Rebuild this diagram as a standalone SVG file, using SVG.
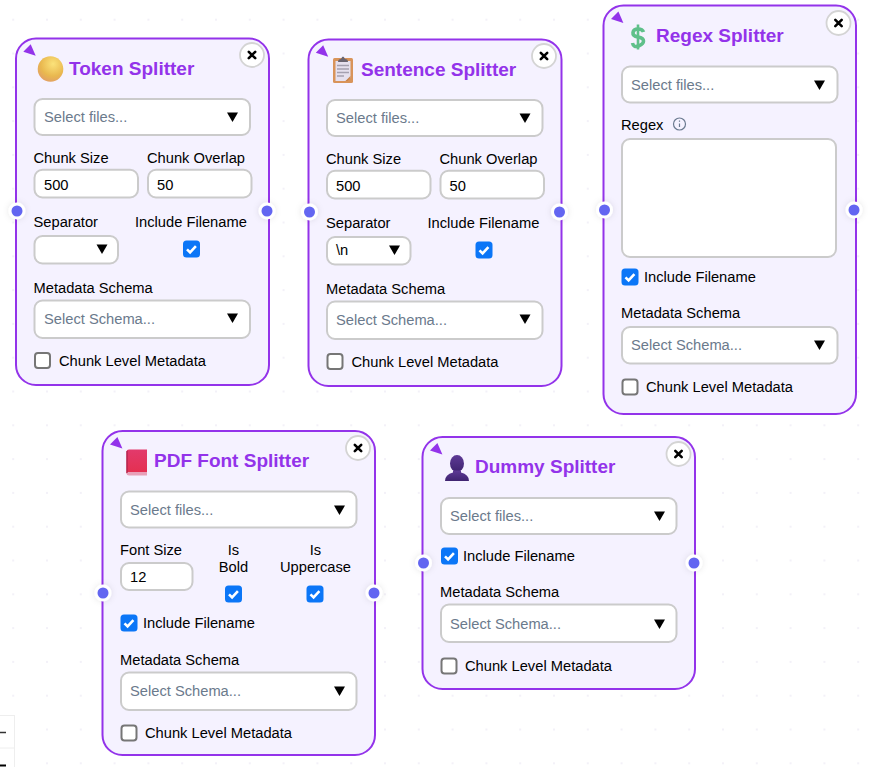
<svg xmlns="http://www.w3.org/2000/svg" width="870" height="767" viewBox="0 0 870 767">
<style>
text{font-family:"Liberation Sans",Arial,sans-serif;font-size:14.7px;fill:#000}
.card{fill:#f5f2ff;stroke:#9333ea;stroke-width:2}
.title{font-size:19px;font-weight:700;fill:#9333ea}
.ctl{fill:#fff;stroke:#cbcbcb;stroke-width:2}
.ph{fill:#6b7a8c}
.c{text-anchor:middle}
</style>
<defs>
<pattern id="dots" x="13.2" y="19.7" width="33.8" height="33.8" patternUnits="userSpaceOnUse"><rect x="-0.8" y="-0.8" width="1.6" height="1.6" fill="#eceaf4"/><rect x="33" y="-0.8" width="1.6" height="1.6" fill="#eceaf4"/><rect x="-0.8" y="33" width="1.6" height="1.6" fill="#eceaf4"/><rect x="33" y="33" width="1.6" height="1.6" fill="#eceaf4"/></pattern>
<filter id="soft" x="-100%" y="-100%" width="300%" height="300%"><feDropShadow dx="0" dy="0" stdDeviation="3" flood-color="#000" flood-opacity="0.1"/></filter>
<radialGradient id="coin" cx="0.6" cy="0.3" r="0.8"><stop offset="0" stop-color="#fbe27a"/><stop offset="0.6" stop-color="#e9b84f"/><stop offset="1" stop-color="#e09a6a"/></radialGradient>
<linearGradient id="book" x1="0" y1="0" x2="0" y2="1"><stop offset="0" stop-color="#e23a6c"/><stop offset="1" stop-color="#e42f4f"/></linearGradient>
<linearGradient id="user" x1="0" y1="0" x2="0" y2="1"><stop offset="0" stop-color="#5e3a96"/><stop offset="1" stop-color="#3f2470"/></linearGradient>
<polygon id="corner" points="0,7.4 7.4,0 12.4,11.4" fill="#9333ea"/>
<g id="close"><circle r="12" fill="#fff" stroke="#d4d4d4" stroke-width="1.8"/><path d="M-3.2-3.2 3.2 3.2M3.2-3.2-3.2 3.2" stroke="#000" stroke-width="2.6" stroke-linecap="round" fill="none"/></g>
<polygon id="arrow" points="-5.5,-4.500 5.500,-4.500 0,5" fill="#000"/>
<g id="handle"><circle r="8.500" fill="#fff" filter="url(#soft)"/><circle r="5.500" fill="#6366f1"/></g>
<g id="on"><rect x="-8.500" y="-8.500" width="17" height="17" rx="3.500" fill="#0b76f7"/><path d="M-4.500 0.300-1.400 3.400 4.400-2.800" stroke="#fff" stroke-width="2.600" fill="none"/></g>
<rect id="off" x="-7.500" y="-7.500" width="15" height="15" rx="3" fill="#fff" stroke="#767676" stroke-width="2"/>
</defs>
<rect width="870" height="767" fill="#fff"/>
<rect width="870" height="767" fill="url(#dots)"/>
<g id="connectors"/>

<g id="token-splitter">
<rect class="card" x="16" y="38.5" width="253" height="346.500" rx="20"/>
<use href="#corner" x="23.300" y="44.300"/>
<use href="#close" x="252" y="55"/>
<circle cx="50.500" cy="69" r="12.800" fill="url(#coin)"/>
<text class="title" x="69" y="75">Token Splitter</text>
<rect class="ctl" x="34.500" y="99" width="215.500" height="36" rx="8"/>
<text class="ph" x="44" y="122">Select files...</text>
<use href="#arrow" x="232.500" y="117"/>
<text x="33.500" y="163">Chunk Size</text><text x="147" y="163">Chunk Overlap</text>
<rect class="ctl" x="34.500" y="169.800" width="103.500" height="27.700" rx="8"/>
<rect class="ctl" x="148" y="169.800" width="103.500" height="27.700" rx="8"/>
<text x="44" y="190">500</text><text x="157" y="190">50</text>
<text x="33.500" y="227">Separator</text><text x="135" y="227">Include Filename</text>
<rect class="ctl" x="34.500" y="236" width="83.500" height="27.500" rx="8"/>
<use href="#arrow" x="102" y="249"/>
<use href="#on" x="191.500" y="249"/>
<text x="33.500" y="293">Metadata Schema</text>
<rect class="ctl" x="34.500" y="300.500" width="215.500" height="37.500" rx="8"/>
<text class="ph" x="44" y="323.500">Select Schema...</text>
<use href="#arrow" x="232.500" y="318"/>
<use href="#off" x="42.500" y="360.500"/>
<text x="59" y="366">Chunk Level Metadata</text>
<use href="#handle" x="17" y="211"/><use href="#handle" x="267" y="211"/>
</g>

<g id="sentence-splitter">
<rect class="card" x="308.500" y="39.500" width="253" height="346.500" rx="20"/>
<use href="#corner" x="315.800" y="45.300"/>
<use href="#close" x="544" y="56"/>
<rect x="333" y="58" width="20" height="25" rx="1.500" fill="#d9945a"/>
<path d="M335.500 61h15v17l-5 3h-10z" fill="#e6e0ee"/><path d="M345.500 81l5-5v2l-3 3z" fill="#c78248"/>
<path d="M337 65.500h12M337 69h12M337 72.500h12M337 76h7" stroke="#a5a0b0" stroke-width="1.300"/>
<path d="M338 62q0-3 3-3 1-2.500 2-2.500t2 2.500q3 0 3 3z" fill="#6a6470"/>
<text class="title" x="361" y="76">Sentence Splitter</text>
<rect class="ctl" x="327" y="100" width="215.500" height="36" rx="8"/>
<text class="ph" x="336" y="123">Select files...</text>
<use href="#arrow" x="525" y="118"/>
<text x="326" y="164">Chunk Size</text><text x="439.500" y="164">Chunk Overlap</text>
<rect class="ctl" x="327" y="170.800" width="103.500" height="27.700" rx="8"/>
<rect class="ctl" x="440.500" y="170.800" width="103.500" height="27.700" rx="8"/>
<text x="336" y="191">500</text><text x="449.500" y="191">50</text>
<text x="326" y="228">Separator</text><text x="427.500" y="228">Include Filename</text>
<rect class="ctl" x="327" y="237" width="83.500" height="27.500" rx="8"/>
<text x="336" y="255">\n</text>
<use href="#arrow" x="394.500" y="250"/>
<use href="#on" x="484" y="250"/>
<text x="326" y="294">Metadata Schema</text>
<rect class="ctl" x="327" y="301.500" width="215.500" height="37.500" rx="8"/>
<text class="ph" x="336" y="324.500">Select Schema...</text>
<use href="#arrow" x="525" y="319"/>
<use href="#off" x="335" y="361.500"/>
<text x="351.500" y="367">Chunk Level Metadata</text>
<use href="#handle" x="309.500" y="212"/><use href="#handle" x="559.500" y="212"/>
</g>

<g id="regex-splitter">
<rect class="card" x="603.500" y="5.500" width="252.500" height="408.500" rx="20"/>
<use href="#corner" x="611" y="11.500"/>
<use href="#close" x="838.500" y="23"/>
<path d="M643.500 32q-1-3-5.500-3t-5 3.500 5 4.500 5.500 4-5 5-6-3" fill="none" stroke="#5fc08a" stroke-width="3.600"/>
<path d="M638 24.500v25" stroke="#5fc08a" stroke-width="2.600"/>
<text class="title" x="656" y="42">Regex Splitter</text>
<rect class="ctl" x="622" y="66.500" width="215.500" height="36" rx="8"/>
<text class="ph" x="631" y="90">Select files...</text>
<use href="#arrow" x="819.500" y="85"/>
<text x="621" y="130">Regex</text>
<circle cx="679.500" cy="124" r="6" fill="none" stroke="#6b7a90" stroke-width="1.200"/>
<path d="M679.500 123.500v3.500M679.500 120.500v1.200" stroke="#6b7a90" stroke-width="1.200"/>
<rect class="ctl" x="622" y="139" width="214" height="118" rx="8"/>
<use href="#on" x="630" y="277"/>
<text x="644" y="282">Include Filename</text>
<text x="621" y="318">Metadata Schema</text>
<rect class="ctl" x="622" y="327" width="215.500" height="36.500" rx="8"/>
<text class="ph" x="631" y="350">Select Schema...</text>
<use href="#arrow" x="819.500" y="345"/>
<use href="#off" x="630" y="387"/>
<text x="646" y="392">Chunk Level Metadata</text>
<use href="#handle" x="604.500" y="210"/><use href="#handle" x="854" y="210"/>
</g>

<g id="pdf-font-splitter">
<rect class="card" x="102.500" y="431" width="272.500" height="324" rx="20"/>
<use href="#corner" x="110" y="437"/>
<use href="#close" x="358" y="448"/>
<path d="M129 449.500h18v22.500h-18q-2.500 0-2.500 2v-22.500q0-2 2.500-2z" fill="url(#book)"/>
<path d="M126.500 473.500q0-1.500 2.500-1.500h18v3.500h-18q-2.500 0-2.500-2z" fill="#e8a0b8"/>
<path d="M127 451v22" stroke="#a82048" stroke-width="1.200"/>
<text class="title" x="154" y="467">PDF Font Splitter</text>
<rect class="ctl" x="121" y="491.500" width="235.500" height="36" rx="8"/>
<text class="ph" x="130" y="515">Select files...</text>
<use href="#arrow" x="339.500" y="510"/>
<text x="120" y="555">Font Size</text>
<text class="c" x="233.500" y="555">Is</text><text class="c" x="233.500" y="572">Bold</text>
<text class="c" x="315.500" y="555">Is</text><text class="c" x="315.500" y="572">Uppercase</text>
<rect class="ctl" x="121" y="563" width="71.500" height="27" rx="8"/>
<text x="130" y="582">12</text>
<use href="#on" x="233.500" y="594"/><use href="#on" x="315" y="594"/>
<use href="#on" x="129" y="623"/>
<text x="143" y="628">Include Filename</text>
<text x="120" y="665">Metadata Schema</text>
<rect class="ctl" x="121" y="672.500" width="235.500" height="37.500" rx="8"/>
<text class="ph" x="130" y="696">Select Schema...</text>
<use href="#arrow" x="339.500" y="691"/>
<use href="#off" x="129" y="733"/>
<text x="145" y="738">Chunk Level Metadata</text>
<use href="#handle" x="103" y="593"/><use href="#handle" x="374" y="593"/>
</g>

<g id="dummy-splitter">
<rect class="card" x="422.500" y="437" width="272.500" height="252" rx="20"/>
<use href="#corner" x="430" y="443"/>
<use href="#close" x="678.500" y="454"/>
<ellipse cx="457" cy="463.500" rx="7" ry="8.500" fill="url(#user)"/>
<path d="M445 481q0-6.500 8-8.500v-2h8v2q8 2 8 8.500z" fill="url(#user)"/>
<text class="title" x="475" y="473">Dummy Splitter</text>
<rect class="ctl" x="441" y="498" width="235.500" height="36" rx="8"/>
<text class="ph" x="450" y="521">Select files...</text>
<use href="#arrow" x="659.500" y="516"/>
<use href="#on" x="449.500" y="556"/>
<text x="463" y="561">Include Filename</text>
<text x="440" y="597">Metadata Schema</text>
<rect class="ctl" x="441" y="604.500" width="235.500" height="37.500" rx="8"/>
<text class="ph" x="450" y="629">Select Schema...</text>
<use href="#arrow" x="659.500" y="624"/>
<use href="#off" x="449" y="666"/>
<text x="465" y="671">Chunk Level Metadata</text>
<use href="#handle" x="423.500" y="563"/><use href="#handle" x="694" y="563"/>
</g>

<g id="zoom-controls">
<rect x="-2" y="715.500" width="16.500" height="54" fill="#fff" stroke="#eee" stroke-width="1"/>
<path d="M-2 748h16.500" stroke="#eee"/>
<path d="M0 732.500h6" stroke="#333" stroke-width="1.500"/>
<path d="M0 765.500h6" stroke="#000" stroke-width="2"/>
</g>
</svg>
